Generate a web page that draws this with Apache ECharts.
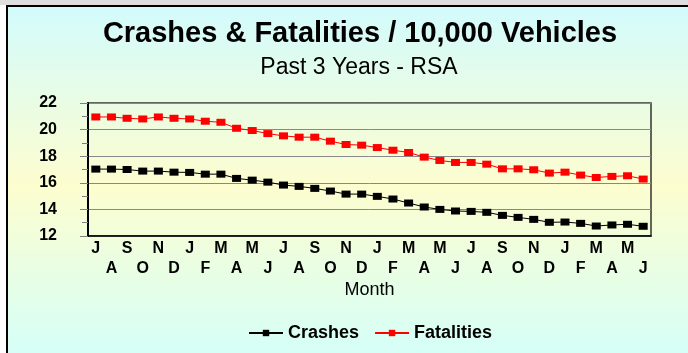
<!DOCTYPE html>
<html>
<head>
<meta charset="utf-8">
<script src="https://cdn.jsdelivr.net/npm/echarts@6/dist/echarts.min.js"></script>
<style>
  html, body { margin: 0; padding: 0; background: #fff; }
  #chart { width: 688px; height: 353px; }
</style>
</head>
<body>
<div id="chart"></div>
<script>
// Jul .. Jun, three years
const months = ['J', 'A', 'S', 'O', 'N', 'D', 'J', 'F', 'M', 'A', 'M', 'J',
  'J', 'A', 'S', 'O', 'N', 'D', 'J', 'F', 'M', 'A', 'M', 'J',
  'J', 'A', 'S', 'O', 'N', 'D', 'J', 'F', 'M', 'A', 'M', 'J']

const crashes = [17.03, 17.03, 17.0, 16.88, 16.88, 16.8, 16.78, 16.65, 16.65,
  16.33, 16.2, 16.05, 15.83, 15.73, 15.58, 15.38, 15.15, 15.15, 14.98, 14.78,
  14.48, 14.18, 14.0, 13.88, 13.85, 13.78, 13.55, 13.4, 13.25, 13.03, 13.05,
  12.95, 12.75, 12.83, 12.88, 12.73]

const fatalities = [20.95, 20.95, 20.85, 20.8, 20.95, 20.85, 20.8, 20.63, 20.55,
  20.1, 19.93, 19.7, 19.53, 19.43, 19.43, 19.13, 18.88, 18.83, 18.65, 18.45,
  18.28, 17.93, 17.68, 17.53, 17.53, 17.4, 17.05, 17.05, 16.98, 16.73, 16.8,
  16.58, 16.4, 16.48, 16.53, 16.28]

const FONT = "'Liberation Sans', Arial, sans-serif"

const chart = echarts.init(document.getElementById('chart'))

chart.setOption({
  animation: false,
  graphic: [
    {
      type: 'rect',
      z: -20,
      shape: { x: 0, y: 0, width: 688, height: 5 },
      style: { fill: '#dedede' }
    },
    {
      type: 'rect',
      z: -10,
      shape: { x: 7, y: 6, width: 700, height: 360 },
      style: {
        fill: new echarts.graphic.LinearGradient(0, 0, 0, 1, [
          { offset: 0, color: '#d2fbfd' },
          { offset: 0.5, color: '#fdfdcf' },
          { offset: 1, color: '#d2fffb' }
        ]),
        stroke: '#000',
        lineWidth: 2
      }
    }
  ],
  title: [
    {
      text: 'Crashes & Fatalities / 10,000 Vehicles',
      left: 355,
      textAlign: 'center',
      top: 14,
      textStyle: { fontFamily: FONT, fontSize: 29, fontWeight: 'bold', color: '#000' }
    },
    {
      text: 'Past 3 Years - RSA',
      left: 354,
      textAlign: 'center',
      top: 51,
      textStyle: { fontFamily: FONT, fontSize: 23, fontWeight: 'normal', color: '#000' }
    }
  ],
  legend: {
    left: 243,
    top: 319,
    itemWidth: 34,
    itemHeight: 8,
    itemGap: 15,
    data: ['Crashes', 'Fatalities'],
    textStyle: { fontFamily: FONT, fontSize: 18, fontWeight: 'bold', color: '#000' }
  },
  grid: {
    left: 88,
    right: 37,
    top: 103,
    bottom: 117,
    show: true,
    borderColor: '#333',
    borderWidth: 1.5
  },
  xAxis: {
    type: 'category',
    data: months,
    name: 'Month',
    nameLocation: 'middle',
    nameGap: 45,
    nameTextStyle: { fontFamily: FONT, fontSize: 18, color: '#000' },
    axisLine: { lineStyle: { color: '#000', width: 1.5 } },
    axisTick: { alignWithLabel: true, length: 4, lineStyle: { color: '#808080' } },
    axisLabel: {
      interval: 0,
      margin: 3,
      lineHeight: 20,
      fontFamily: FONT,
      fontSize: 16,
      fontWeight: 'bold',
      color: '#000',
      formatter: (v, i) => (i % 2 ? '\n' + v : v)
    }
  },
  yAxis: {
    type: 'value',
    min: 12,
    max: 22,
    interval: 2,
    axisLine: { show: true, lineStyle: { color: '#000', width: 2 } },
    axisTick: { show: true, length: 8, lineStyle: { color: '#808080' } },
    minorTick: { show: true, splitNumber: 2, length: 6, lineStyle: { color: '#808080' } },
    splitLine: { lineStyle: { color: '#888', width: 1 } },
    axisLabel: {
      margin: 31,
      fontFamily: FONT,
      fontSize: 16,
      fontWeight: 'bold',
      color: '#000'
    }
  },
  series: [
    {
      name: 'Crashes',
      type: 'line',
      data: crashes,
      symbol: 'rect',
      symbolSize: [9, 7],
      color: '#000',
      lineStyle: { color: '#000', width: 1 },
      itemStyle: { color: '#000' }
    },
    {
      name: 'Fatalities',
      type: 'line',
      data: fatalities,
      symbol: 'rect',
      symbolSize: [9, 7],
      color: '#ff0000',
      lineStyle: { color: '#ff0000', width: 1 },
      itemStyle: { color: '#ff0000' }
    }
  ]
})
</script>
</body>
</html>
